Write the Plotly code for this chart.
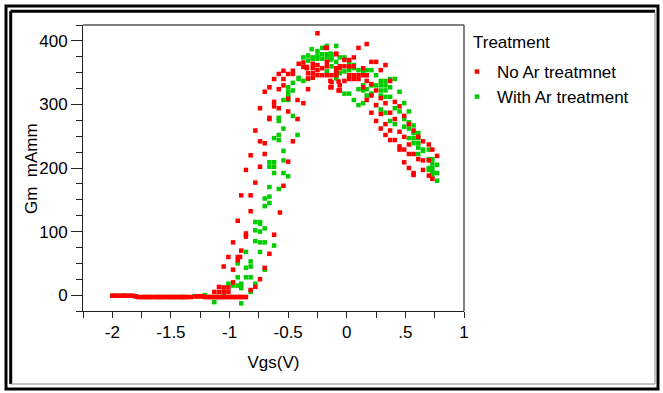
import plotly.graph_objects as go

# ---------------- data ----------------
no_ar_x = [
    -2.00, -1.98, -1.96, -1.94, -1.92, -1.90, -1.88, -1.86, -1.84, -1.82, -1.80,
    -1.78, -1.76, -1.74, -1.72, -1.70, -1.68, -1.66, -1.64, -1.62, -1.60, -1.58, -1.56,
    -1.54, -1.52, -1.50, -1.48, -1.46, -1.44, -1.42, -1.40, -1.38, -1.36, -1.33,
    -1.29, -1.27, -1.25, -1.23, -1.21, -1.19, -1.17, -1.15, -1.13, -1.11, -1.09, -1.07,
    -1.05, -1.03, -1.01, -0.99, -0.97, -0.95, -0.93, -0.91, -0.89, -0.86,
    -1.13, -1.09, -1.05, -1.01, -0.82,
    -1.09, -1.05, -1.01, -0.78,
    -0.97, -0.74, -1.05, -0.97, -0.70,
    -1.01, -0.93, -0.91, -0.93, -0.66, -0.90, -0.97,
    -0.62, -0.86, -0.86, -0.93, -0.57, -0.82,
    -0.90, -0.82, -0.54, -0.78, -0.86,
    -0.74, -0.82, -0.70, -0.50, -0.74, -0.70, -0.46,
    -0.78, -0.66, -0.66, -0.42, -0.50, -0.74,
    -0.62, -0.62, -0.58, -0.50, -0.42, -0.37,
    -0.70, -0.66, -0.58, -0.54, -0.33,
    -0.62, -0.54, -0.54, -0.50, -0.58, -0.46, -0.46, -0.41,
    -0.37, -0.37, -0.34, -0.29, -0.34, -0.29, -0.25, -0.25, -0.21, -0.17,
    -0.33, -0.29, -0.25, -0.21, -0.17, -0.13, -0.09, -0.33, -0.29, -0.09,
    -0.13, -0.13, -0.07, -0.07, -0.17, -0.09, -0.18, -0.25, -0.17,
    0.10, 0.17,
    -0.09, -0.02, 0.02, 0.06, -0.06, -0.02, 0.02, 0.06, -0.09, -0.06,
    0.21, 0.25, 0.33, 0.29, 0.14,
    0.02, 0.06, 0.10, 0.14, 0.17, -0.09,
    -0.02, 0.02, 0.06, 0.10,
    -0.14, -0.14, -0.06, -0.06,
    0.17, 0.21, 0.37, 0.14, 0.25,
    0.21, 0.29, 0.17, 0.25, 0.33, 0.41, 0.45,
    0.21, 0.29, 0.37, 0.41, 0.49, 0.25, 0.33, 0.53,
    0.29, 0.37, 0.45, 0.57, 0.33, 0.37, 0.41, 0.49, 0.61,
    0.53, 0.45, 0.45, 0.49, 0.65, 0.70,
    0.53, 0.57, 0.61, 0.65, 0.70, 0.73, 0.77,
    0.49, 0.53, 0.65, 0.57, 0.57, 0.70, 0.73,
]
no_ar_y = [
    -1, -1, -1, -1, -1, -1, -1, -1, -1, -1, -2,
    -3, -3, -3, -3, -3, -3, -3, -3, -3, -3, -3, -3,
    -3, -3, -3, -3, -3, -3, -3, -3, -3, -3, -3,
    -2, -2, -2, -2, -3, -3, -3, -3, -3, -3, -3, -3,
    -3, -3, -3, -3, -3, -3, -3, -3, -3, -3,
    5, 5, 5, 5, 8,
    13, 12, 12, 13,
    20, 25, 45, 40, 43,
    60, 60, 60, 55, 65, 70, 83,
    95, 97, 92, 117, 130, 132,
    157, 157, 172, 177, 197,
    202, 220, 222, 210, 242, 239, 242,
    259, 279, 277, 277, 289, 294,
    304, 297, 294, 309, 307, 302,
    320, 327, 324, 330, 324,
    340, 340, 353, 348, 348, 353, 348, 364,
    366, 359, 359, 364, 357, 357, 362, 354, 357, 360,
    349, 349, 346, 346, 346, 346, 349, 341, 342, 357,
    335, 327, 322, 336, 367, 379, 389, 412, 389,
    389, 395,
    380, 370, 370, 374, 360, 360, 360, 360, 352, 357,
    367, 367, 362, 354, 357,
    346, 346, 346, 346, 346, 346,
    337, 340, 340, 340,
    337, 327, 330, 322,
    337, 332, 337, 327, 322,
    314, 310, 307, 299, 302, 304, 297,
    287, 285, 287, 277, 282, 274, 269, 269,
    262, 259, 257, 259, 252, 244, 244, 249, 249,
    237, 234, 229, 229, 242, 237,
    222, 222, 214, 212, 212, 229, 219,
    209, 200, 197, 192, 189, 188, 183,
]

with_ar_x = [
    -2.00, -1.90, -1.80, -1.70, -1.60, -1.50, -1.40, -1.30, -1.21, -1.13, -1.10, -1.05,
    -0.90, -0.82,
    -1.01, -0.97, -0.93, -0.90, -0.90, -0.78,
    -0.93, -0.86, -0.82, -0.70,
    -0.82, -0.82, -0.86, -0.93,
    -0.86, -0.74, -0.62,
    -0.78, -0.74, -0.70,
    -0.78, -0.74, -0.70,
    -0.78, -0.74, -0.74,
    -0.70, -0.66, -0.66, -0.70,
    -0.66, -0.58,
    -0.62, -0.54, -0.50,
    -0.66, -0.62, -0.66, -0.62,
    -0.54, -0.54,
    -0.58, -0.62, -0.58, -0.42, -0.54,
    -0.58, -0.58, -0.46,
    -0.54, -0.50,
    -0.50, -0.50, -0.46, -0.50, -0.46,
    -0.41, -0.37, -0.33, -0.41, -0.09,
    -0.30, -0.25, -0.21, -0.17, -0.09,
    -0.37, -0.33, -0.29, -0.25, -0.21, -0.17, -0.13,
    -0.33, -0.29, -0.25, -0.21, -0.17, -0.13, -0.09, -0.13, -0.17,
    -0.14, -0.14, -0.06, -0.02, 0.02, 0.06, 0.06, 0.10, 0.14, 0.17, 0.21, 0.25,
    0.02, -0.02, -0.06, -0.09,
    0.29, 0.33, 0.37, 0.41,
    0.14, 0.21, 0.25, 0.29, 0.33, 0.37,
    0.10, 0.14, 0.17, 0.29, 0.33,
    -0.02, 0.02,
    0.17, 0.21, 0.29, 0.33, 0.37, 0.45,
    0.06, 0.10, 0.14, 0.25, 0.29, 0.33, 0.41, 0.49, 0.45, 0.53,
    0.49, 0.37, 0.41, 0.53, 0.57, 0.49, 0.53,
    0.57, 0.61, 0.53, 0.57, 0.61,
    0.61, 0.61, 0.65, 0.65, 0.57, 0.61, 0.70,
    0.70, 0.73, 0.73, 0.77,
    0.70, 0.73, 0.73, 0.77, 0.70, 0.73, 0.73, 0.77,
]
with_ar_y = [
    -1, -1, -2, -3, -3, -3, -3, -2, 0, -11, -3, -2,
    -13, 5,
    18, 15, 15, 18, 11, 18,
    28, 28, 28, 40,
    53, 45, 43, 50,
    68, 68, 78,
    85, 83, 83,
    102, 100, 105,
    115, 115, 112,
    152, 155, 145, 140,
    170, 167,
    192, 192, 187,
    209, 209, 202, 202,
    227, 212,
    252, 247, 244, 252, 262,
    279, 274, 282,
    307, 307,
    327, 320, 322, 314, 334,
    342, 337, 340, 340, 342,
    387, 384, 389, 392, 392,
    374, 377, 374, 377, 379, 379, 379,
    369, 372, 372, 372, 374, 373, 367, 360, 352,
    380, 370, 374, 374, 367, 362, 357, 354, 352, 354, 354, 346,
    354, 352, 349, 341,
    337, 337, 340, 340,
    330, 330, 330, 330, 330, 327,
    324, 322, 324, 322, 322,
    317, 317,
    314, 317, 314, 312, 312, 320,
    307, 299, 302, 299, 292, 287, 294, 302, 289, 289,
    277, 274, 269, 272, 267, 265, 262,
    255, 255, 247, 247, 247,
    239, 232, 229, 227, 239, 222, 229,
    214, 214, 207, 205,
    200, 200, 192, 192, 197, 194, 188, 180,
]

series_names = ["No Ar treatmnet", "With Ar treatment"]
legend_title = "Treatment"
x_title = "Vgs(V)"
y_title = "Gm\u00a0 mAmm"
x_tick_vals = [-2, -1.5, -1, -0.5, 0, 0.5, 1]
x_tick_text = ["-2", "-1.5", "-1", "-0.5", "0", ".5", "1"]
y_tick_vals = [0, 100, 200, 300, 400]
y_tick_text = ["0", "100", "200", "300", "400"]

# ---------------- figure ----------------
W, H = 663, 393
L, R, T, B = 83, 199, 25, 82
PW, PH = W - L - R, H - T - B
FONT = "Liberation Sans, Arial, Helvetica, sans-serif"

def px(xp):
    return (xp - L) / PW

def py(yp):
    return (H - B - yp) / PH

fig = go.Figure()
fig.add_trace(go.Scatter(
    x=with_ar_x, y=with_ar_y, mode="markers", name=series_names[1], legendrank=2,
    marker=dict(symbol="square", size=4.5, color="#00CC00", line=dict(width=0)),
))
fig.add_trace(go.Scatter(
    x=no_ar_x, y=no_ar_y, mode="markers", name=series_names[0], legendrank=1,
    marker=dict(symbol="square", size=4.5, color="#FF0000", line=dict(width=0)),
))

shapes = [
    dict(type="rect", x0=px(6), x1=px(658), y0=py(6), y1=py(389),
         line=dict(color="black", width=3)),
    dict(type="line", x0=px(10.5), x1=px(655), y0=py(11.3), y1=py(11.3),
         line=dict(color="black", width=3)),
    dict(type="line", x0=px(10.7), x1=px(10.7), y0=py(11.3), y1=py(384),
         line=dict(color="black", width=3)),
    dict(type="line", x0=px(10.7), x1=px(655), y0=py(384), y1=py(384),
         line=dict(color="#888888", width=1)),
    dict(type="line", x0=px(655), x1=px(655), y0=py(11.3), y1=py(384),
         line=dict(color="#888888", width=1)),
    # plot box top & right edges
    dict(type="line", x0=0, x1=1, y0=1, y1=1, line=dict(color="#555555", width=1.5)),
    dict(type="line", x0=1, x1=1, y0=0, y1=1, line=dict(color="#555555", width=1.5)),
]
for s in shapes:
    s.update(xref="paper", yref="paper")

annotations = [
    dict(text=legend_title, x=px(471), y=py(42), xanchor="left", yanchor="middle",
         showarrow=False, font=dict(size=17)),
    dict(text=y_title, x=px(31), y=py(169), xanchor="center", yanchor="middle",
         textangle=-90, showarrow=False, font=dict(size=17)),
]
for a in annotations:
    a.update(xref="paper", yref="paper")

fig.update_layout(
    width=W, height=H,
    margin=dict(l=L, r=R, t=T, b=B, pad=0),
    paper_bgcolor="white", plot_bgcolor="white",
    font=dict(family=FONT, size=17, color="black"),
    showlegend=True,
    legend=dict(
        x=px(457), y=py(54), xanchor="left", yanchor="top",
        font=dict(size=17), bgcolor="rgba(0,0,0,0)", tracegroupgap=0,
        itemsizing="trace",
    ),
    shapes=shapes,
    annotations=annotations,
    xaxis=dict(
        range=[-2.25, 1.0], showgrid=False, zeroline=False,
        showline=True, linecolor="#222222", linewidth=1,
        tickmode="array", tickvals=x_tick_vals, ticktext=x_tick_text,
        ticks="outside", ticklen=6, tickcolor="#222222", tickwidth=1,
        minor=dict(tickmode="linear", tick0=0, dtick=0.25, ticks="outside",
                   ticklen=6, tickcolor="#222222", tickwidth=1, showgrid=False),
        tickfont=dict(size=17),
        title=dict(text=x_title, font=dict(size=17), standoff=14),
        automargin=False,
    ),
    yaxis=dict(
        range=[-25, 425], showgrid=False, zeroline=False,
        showline=True, linecolor="#222222", linewidth=1,
        tickmode="array", tickvals=y_tick_vals, ticktext=y_tick_text,
        ticks="outside", ticklen=11, tickcolor="#222222", tickwidth=1,
        minor=dict(tickmode="linear", tick0=0, dtick=25, ticks="outside",
                   ticklen=6, tickcolor="#222222", tickwidth=1, showgrid=False),
        tickfont=dict(size=17),
        automargin=False,
    ),
)

fig.write_html("out.html", config={"displayModeBar": False},
               post_script="document.body.style.margin='0px';")
